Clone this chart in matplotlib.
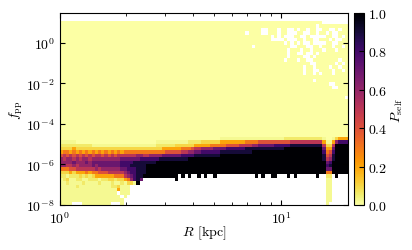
import numpy as np
import matplotlib
matplotlib.use("Agg")
import matplotlib.pyplot as plt
from matplotlib.ticker import LogLocator, NullFormatter

plt.rcParams["font.family"] = "cmr10"
plt.rcParams["mathtext.fontset"] = "cm"
plt.rcParams["axes.unicode_minus"] = False
plt.rcParams["axes.formatter.use_mathtext"] = True
plt.rcParams["font.size"] = 10

# value bins
R_MIN, R_MAX, N_R = 1.0, 20.0, 90
F_MIN, F_TOP, N_F = 1e-8, 10 ** 1.09, 54

# '.' is an empty bin, digits are tenths, X is 1
LEVELS = {"a": 0.02, "b": 0.06, "X": 1.0, ".": np.nan}
for d in "0123456789":
    LEVELS[d] = int(d) / 10

BLANK = "0" * 90

# P_self per bin, top row of the grid first, 9 blocks of 10 R bins
P_ROWS = [
    "0000000000 0000000000 0000000000 0000000000 0000000000 0000000000 0000000000 0000000000 00........",
    "0000000000 0000000000 0000000000 0000000000 0000000000 0000000000 0000000000 0000000000 .000000000",
    "0000000000 0000000000 0000000000 0000000000 0000000000 0000000000 000..000.0 0..0.00.00 ..00..0.00",
    "0000000000 0000000000 0000000000 0000000000 0000000000 00000000.0 000..000.0 0...00..00 .00.0..000",
    "0000000000 0000000000 0000000000 0000000000 0000000000 0000000000 000000.0.0 ...00..0.. ...00..0.0",
    "0000000000 0000000000 0000000000 0000000000 0000000000 0000000000 000000.... 0...00.00. .000.0..00",
    "0000000000 0000000000 0000000000 0000000000 0000000000 0000000000 0000000000 .0.0.0..0. ...00..000",
    "0000000000 0000000000 0000000000 0000000000 0000000000 0000000000 .000000000 00..000..0 0.000.00.0",
    "0000000000 0000000000 0000000000 0000000000 0000000000 0000000000 0000000000 0.000.00.0 00.000.000",
    "0000000000 0000000000 0000000000 0000000000 0000000000 0000000000 0000000000 0.00..0..0 .000000000",
    "0000000000 0000000000 0000000000 0000000000 0000000000 0000000000 0000000000 0.0000..0. 0000000000",
    "0000000000 0000000000 0000000000 0000000000 0000000000 0000000000 0000000000 .000.00..0 0000000.00",
    "0000000000 0000000000 0000000000 0000000000 0000000000 0000000000 0000000000 00000000.. 000000.0.0",
    "0000000000 0000000000 0000000000 0000000000 0000000000 0000000000 0000000000 000000.00. 0000.00.00",
    "0000000000 0000000000 0000000000 0000000000 0000000000 0000000000 0000000000 000000.00. .0000.00.0",
    "0000000000 0000000000 0000000000 0000000000 0000000000 0000000000 0000000000 000000.00. 0.000.0000",
    BLANK,
    "0000000000 0000000000 0000000000 0000000000 0000000000 0000000000 0000000000 000000000. 0000000000",
    "0000000000 0000000000 0000000000 0000000000 0000000000 0000000000 0000000000 0000000000 0000..0000",
    "0000000000 0000000000 0000000000 0000000000 0000000000 0000000000 0000000000 0000000000 00000..000",
    BLANK,
    BLANK,
    "0000000000 0000000000 0000000000 0000000000 0000000000 0000000000 0000000000 0000000000 000000000.",
    BLANK, BLANK, BLANK, BLANK, BLANK, BLANK, BLANK, BLANK, BLANK, BLANK, BLANK,
    "0000000000 0000000000 0000000000 0000000000 0000000000 aaaaaaaaaa aaaaaaaaaa bbbbbbbbbb bba00a1222",
    "aaaaa00000 0000000000 0000000000 aaaaaaaaaa bbbb111111 2222222233 3344444444 4455555555 552aa26888",
    "bbbbbbbbbb aaaaaaaaaa aaaaaaaaaa bbbbbb1111 1122222333 3344445555 6677777888 8899999999 995115XXXX",
    "1111211111 1111111111 1111111111 1122222233 3455666677 7788888899 9999999999 XXXXXXXXXX XX7227XXXX",
    "2332323232 3232323232 3333333333 3334444455 6677888888 9999999999 XXXXXXXXXX XXXXXXXXXX XX8348XXXX",
    "4545454545 4554545455 5555665566 6677777788 8899999999 XXXXXXXXXX XXXXXXXXXX XXXXXXXXXX XX9459XXXX",
    "6566565665 6666666667 7777788888 8999999999 XXXXXXXXXX XXXXXXXXXX XXXXXXXXXX XXXXXXXXXX XX9569XXXX",
    "6666766676 7777777778 8889999999 XXXXXXXXXX XXXXXXXXXX XXXXXXXXXX XXXXXXXXXX XXXXXXXXXX XXX78XXXXX",
    "6655656666 7677777778 8899999XXX XXXXXXXXXX XXXXXXXXXX XXXXXXXXXX XXXXXXXXXX XXXXXXXXXX XXX89XXXXX",
    "3334455555 5656666667 7888999XXX XXXXXXXXXX XXXXXXXXXX XXXXXXXXXX XXXXXXXXXX XXXXXXXXXX XXX77XXXXX",
    "1112122232 3344455555 6788999XXX XXXXXXXXXX XXXXXXXXXX XXXXXXXXXX XXXXXXXXXX XXXXXXXXXX XXX33XXXXX",
    "bbabbb1b1b 1222222333 567899XXXX XXXXXXX.X. X..X.X..X. .......... .X.X..XX.. .X.X...... X..bb.X...",
    "ab1aabbaab bbabb11b11 236897.... ......X... .......... .......... .......... .......... ...aa.....",
    "aabaaaabaa aabaaabaab a11aX..... .......... .......... .......... .......... .......... ...aa.....",
    "aaaaabaaaa aaaaaabb1a aa........ .......... .......... .......... .......... .......... ...aa.....",
    "aaaaaaaaaa aaaaaaaa2a aa........ .......... .......... .......... .......... .......... ...aa.....",
    "aaaaaaaaaa aaaaaaaa.a aa........ .......... .......... .......... .......... .......... ...aa.....",
    "aaaaaaaaaa aaaaaaaaa. a......... .......... .......... .......... .......... .......... ...aa.....",
    "aaaaaaaaaa aaaaaaaaaa .......... .......... .......... .......... .......... .......... ...aa.....",
    "aaaa...aaa aaaaaa...a .......... .......... .......... .......... .......... .......... ...a......",
]

X_TICKS = [1, 10]
Y_TICKS = [1e-8, 1e-6, 1e-4, 1e-2, 1e0]
CBAR_TICKS = [0.0, 0.2, 0.4, 0.6, 0.8, 1.0]


def parse_rows(rows):
    grid = []
    for row in rows:
        cells = row.replace(" ", "")
        assert len(cells) == N_R, (row, len(cells))
        grid.append([LEVELS[c] for c in cells])
    assert len(grid) == N_F, len(grid)
    return np.array(grid)[::-1]


def main():
    p_self = np.ma.masked_invalid(parse_rows(P_ROWS))
    r_edges = np.logspace(np.log10(R_MIN), np.log10(R_MAX), N_R + 1)
    f_edges = np.logspace(np.log10(F_MIN), np.log10(F_TOP), N_F + 1)

    w, h = 412, 251
    fig = plt.figure(figsize=(w / 100, h / 100), dpi=100)
    ax = fig.add_axes([59.5 / w, 1 - 206 / h, 288.5 / w, 192 / h])
    mesh = ax.pcolormesh(r_edges, f_edges, p_self, cmap="inferno_r", vmin=0, vmax=1,
                         linewidth=0, antialiased=False)
    ax.set_xscale("log")
    ax.set_yscale("log")
    ax.set_xlim(1, 20)
    ax.set_ylim(1e-8, 10 ** 1.48)
    ax.set_xlabel(r"$R$ [kpc]", labelpad=-1.5)
    ax.set_ylabel(r"$f_{\rm pp}$", labelpad=0.5)

    ax.set_xticks(X_TICKS)
    ax.set_yticks(Y_TICKS)
    ax.xaxis.set_minor_locator(LogLocator(base=10, subs=range(2, 10), numticks=10))
    ax.xaxis.set_minor_formatter(NullFormatter())
    ax.yaxis.set_minor_locator(plt.NullLocator())
    ax.tick_params(which="major", direction="in", top=True, right=True, length=3.5, width=0.8)
    ax.tick_params(which="minor", direction="in", top=True, right=True, length=2, width=0.6)

    cax = fig.add_axes([353.5 / w, 1 - 206 / h, 10 / w, 192 / h])
    cbar = fig.colorbar(mesh, cax=cax)
    cbar.set_ticks(CBAR_TICKS)
    cbar.set_label(r"$P_{\rm self}$", labelpad=1)
    cax.tick_params(direction="in", length=3.5, width=0.8)

    fig.savefig("out.png", dpi=100)
    plt.close(fig)


if __name__ == "__main__":
    main()
